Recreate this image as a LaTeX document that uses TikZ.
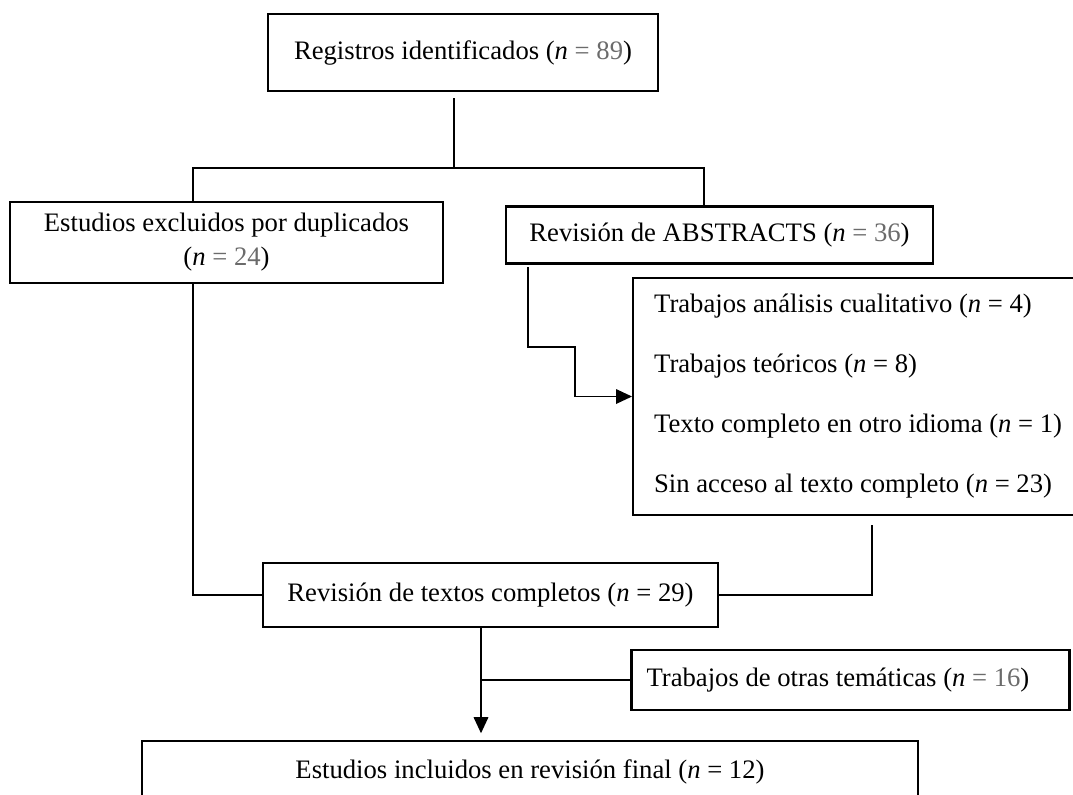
\documentclass[tikz,border=0pt]{standalone}
\usepackage{fontspec}
\setmainfont{Liberation Serif}
\usetikzlibrary{arrows.meta}
\definecolor{numgray}{gray}{0.42}
\newcommand{\nblack}[1]{(\textit{n} = #1)}
\newcommand{\ngray}[1]{(\textit{n} \textcolor{numgray}{= #1})}
\tikzset{
  box/.style={draw, line width=1.7pt, inner sep=0pt, align=center,
    font=\fontsize{20}{25.5}\selectfont},
  link/.style={line width=0.9pt},
  arr/.style={link, -{Triangle[length=12pt,width=11pt]}}
}
\begin{document}
\begin{tikzpicture}[x=0.75pt,y=-0.75pt]
\useasboundingbox (0,0) rectangle (1073,794);
\clip (0,0) rectangle (1073,794);
% boxes
\node[box, minimum width=292.5pt, minimum height=57.75pt] (reg) at (463,52.5) {Registros identificados \ngray{89}};
\node[box, minimum width=324.75pt, minimum height=60.75pt] (dup) at (226.5,242.5) {Estudios excluidos por duplicados\\\ngray{24}};
\node[box, minimum width=320.25pt, minimum height=42.75pt] (abs) at (719.5,235) {Revisión de ABSTRACTS \ngray{36}};
\node[box, minimum height=177.75pt, text width=308pt, inner xsep=15.75pt, align=flush left,
  font=\fontsize{20}{45}\selectfont, anchor=west] (exc) at (632,396.5) {Trabajos análisis cualitativo \nblack{4}\\
  Trabajos teóricos \nblack{8}\\
  Texto completo en otro idioma \nblack{1}\\
  Sin acceso al texto completo \nblack{23}};
\node[box, minimum width=341.25pt, minimum height=48pt] (txt) at (490.5,595) {Revisión de textos completos \nblack{29}};
\node[box, minimum height=45pt, text width=306pt, inner xsep=11.25pt, align=flush left] (oth) at (850.5,680) {Trabajos de otras temáticas \ngray{16}};
\node[box, minimum width=582pt, minimum height=46.5pt] (fin) at (530,772) {Estudios incluidos en revisión final \nblack{12}};
% connectors
\coordinate (split) at (454,168);
\coordinate (jl) at (193,168);
\coordinate (jr) at (704,168);
\draw[link, shorten <=4.5pt] (reg.south -| split) -- (split);
\draw[link] (dup.north -| jl) -- (jl) -- (jr) -- (abs.north -| jr);
\coordinate (e1) at (528,347);
\coordinate (e2) at (575,396.5);
\draw[arr, shorten <=2pt] (abs.south -| e1) -- (e1) -- (e1 -| e2) -- (e2) -- (exc.west);
\coordinate (r1) at (872,595);
\draw[link, shorten <=6.75pt] (exc.south -| r1) -- (r1) -- (txt.east);
\coordinate (l1) at (193,595);
\draw[link] (dup.south -| l1) -- (l1) -- (txt.west);
\coordinate (d1) at (481,680);
\draw[arr, shorten >=5pt] (txt.south -| d1) -- (fin.north -| d1);
\draw[link] (d1) -- (oth.west);
\end{tikzpicture}
\end{document}
